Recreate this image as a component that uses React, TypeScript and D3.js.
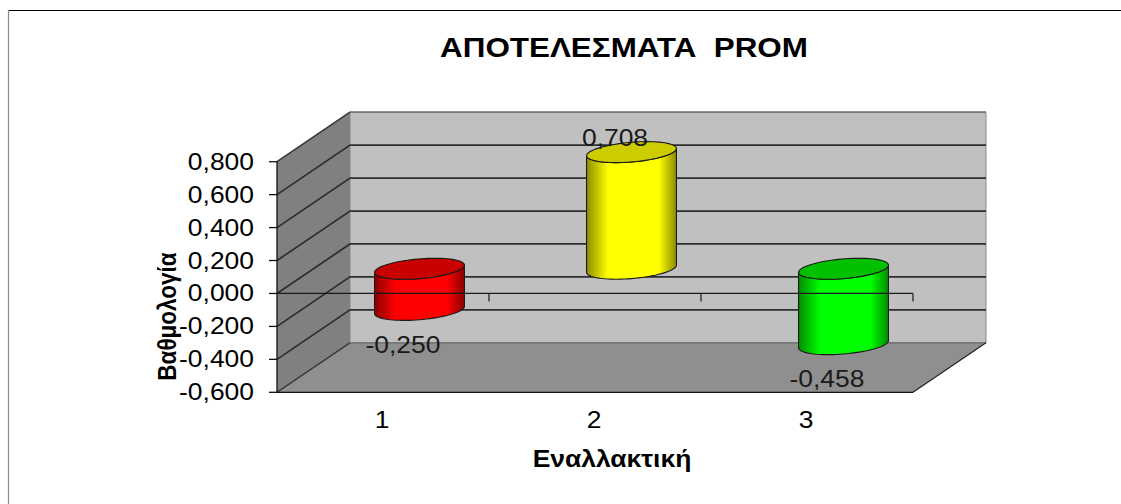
import React from "react";
import * as d3 from "d3";

const categories = ["1", "2", "3"];
const values = [-0.25, 0.708, -0.458];
const valueLabels = ["-0,250", "0,708", "-0,458"];
const barColors = ["#ff0000", "#ffff00", "#00ff00"];
const barShades = ["#8c0000", "#8c8c00", "#008c00"];
const barTops = ["#c80000", "#cccc00", "#00c000"];
const yTicks = [-0.6, -0.4, -0.2, 0, 0.2, 0.4, 0.6, 0.8];
const title = "ΑΠΟΤΕΛΕΣΜΑΤΑ  PROM";
const xTitle = "Εναλλακτική";
const yTitle = "Βαθμολογία";

const WIDTH = 1121;
const HEIGHT = 504;
const FONT = "'Liberation Sans', Arial, sans-serif";
// All lettering is set slightly wide
const TEXT_STRETCH = 1.15;

// Oblique projection: the plot's front plane and the shift to its back plane
const y = d3.scaleLinear().domain([-0.6, 0.8]).range([392.3, 161.7]);
const x = d3.scaleBand().domain(categories).range([277, 913]);
const depthX = 73;
const depthY = -49.5;

// Cylinder base: a circle sheared along the width and depth axes
const radiusWide = 42.2;
const radiusDepthX = 15.5;
const radiusDepthY = 10.5;
const silhouette = Math.atan2(radiusDepthX, radiusWide);

const tickFormat = (v: number) => d3.format(".3f")(v).replace(".", ",").replace("−", "-");

function rimPoint(cx: number, cy: number, t: number): [number, number] {
  return [
    cx + radiusWide * Math.cos(t) + radiusDepthX * Math.sin(t),
    cy - radiusDepthY * Math.sin(t),
  ];
}

const outline = d3.line();

function rimPoints(cx: number, cy: number, from: number, to: number) {
  return d3.range(41).map((i) => rimPoint(cx, cy, from + ((to - from) * i) / 40));
}

function Cylinder({ index }: { index: number }) {
  const cat = categories[index];
  const cx = x(cat)! + x.bandwidth() / 2 + depthX / 2;
  const zeroY = y(0) + depthY / 2;
  const valueY = y(values[index]) + depthY / 2;
  const topY = Math.min(zeroY, valueY);
  const bottomY = Math.max(zeroY, valueY);

  // The front half of each rim runs from the left silhouette to the right one
  const frontTop = rimPoints(cx, topY, Math.PI + silhouette, 2 * Math.PI + silhouette);
  const frontBottom = rimPoints(cx, bottomY, 2 * Math.PI + silhouette, Math.PI + silhouette);
  const cap = rimPoints(cx, topY, 0, 2 * Math.PI);

  return (
    <g stroke="#1a1a1a" strokeWidth={1.1} strokeLinejoin="round">
      <path d={outline([...frontTop, ...frontBottom])! + "Z"} fill={`url(#bar-${index})`} />
      <path d={outline(cap)! + "Z"} fill={barTops[index]} />
    </g>
  );
}

function WideText({
  px,
  py,
  size,
  anchor = "middle",
  bold = false,
  fill = "#000",
  children,
}: {
  px: number;
  py: number;
  size: number;
  anchor?: string;
  bold?: boolean;
  fill?: string;
  children: React.ReactNode;
}) {
  return (
    <text
      transform={`translate(${px},${py}) scale(${TEXT_STRETCH},1)`}
      textAnchor={anchor}
      fontSize={size}
      fontWeight={bold ? "bold" : "normal"}
      fill={fill}
      style={{ whiteSpace: "pre" }}
    >
      {children}
    </text>
  );
}

export default function App() {
  const [x0, x1] = x.range();
  const yBottom = y(-0.6);
  const yTop = y(0.8);
  const backX0 = x0 + depthX;
  const backX1 = x1 + depthX;

  return (
    <svg
      width={WIDTH}
      height={HEIGHT}
      style={{ position: "absolute", left: 0, top: 0, background: "#fff" }}
      fontFamily={FONT}
    >
      <defs>
        {categories.map((_, i) => (
          <linearGradient key={i} id={`bar-${i}`} x1="0" x2="1" y1="0" y2="0">
            <stop offset="0" stopColor={barShades[i]} />
            <stop offset="0.24" stopColor={barColors[i]} />
            <stop offset="0.8" stopColor={barColors[i]} />
            <stop offset="1" stopColor={barShades[i]} />
          </linearGradient>
        ))}
      </defs>

      {/* Outer frame: only the top and left edges are drawn */}
      <line x1={8} x2={WIDTH} y1={10.5} y2={10.5} stroke="#000" strokeWidth={1.2} />
      <line x1={8.5} x2={8.5} y1={10} y2={HEIGHT} stroke="#8a8a8a" strokeWidth={1.2} />

      <WideText px={624} py={57} size={27.3} bold>
        {title}
      </WideText>

      {/* Walls and floor */}
      <polygon
        points={`${backX0},${yTop + depthY} ${backX1},${yTop + depthY} ${backX1},${yBottom + depthY} ${backX0},${yBottom + depthY}`}
        fill="#c0c0c0"
        stroke="#8a8a8a"
        strokeWidth={1}
      />
      <polygon
        points={`${x0},${yTop} ${backX0},${yTop + depthY} ${backX0},${yBottom + depthY} ${x0},${yBottom}`}
        fill="#808080"
      />
      <polygon
        points={`${x0},${yBottom} ${backX0},${yBottom + depthY} ${backX1},${yBottom + depthY} ${x1},${yBottom}`}
        fill="#8f8f8f"
      />

      {/* Gridlines bend from the side wall onto the back wall */}
      {yTicks.map((t) => (
        <polyline
          key={t}
          points={`${x0},${y(t)} ${backX0},${y(t) + depthY} ${backX1},${y(t) + depthY}`}
          fill="none"
          stroke={t === -0.6 || t === 0.8 ? "#777" : "#2e2e2e"}
          strokeWidth={1.7}
        />
      ))}
      <line x1={x0} y1={yBottom} x2={backX0} y2={yBottom + depthY} stroke="#333" strokeWidth={1.2} />
      <line x1={x0} y1={yTop} x2={backX0} y2={yTop + depthY} stroke="#333" strokeWidth={1.2} />
      <line x1={x1} y1={yBottom} x2={backX1} y2={yBottom + depthY} stroke="#222" strokeWidth={1.2} />

      {categories.map((_, i) => (
        <Cylinder key={i} index={i} />
      ))}

      {/* Value axis on the front plane */}
      <line x1={x0} x2={x0} y1={yTop} y2={yBottom} stroke="#111" strokeWidth={1.3} />
      {yTicks.map((t) => (
        <g key={t}>
          <line x1={x0 - 8} x2={x0} y1={y(t)} y2={y(t)} stroke="#111" strokeWidth={1.3} />
          <WideText px={254} py={y(t) + 8} size={23} anchor="end">
            {tickFormat(t)}
          </WideText>
        </g>
      ))}

      {/* Category axis at zero, crossing the bars */}
      <line x1={x0} x2={x1} y1={y(0)} y2={y(0)} stroke="#1a1a1a" strokeWidth={1.3} />
      {categories.map((c) => (
        <line
          key={c}
          x1={x(c)! + x.bandwidth()}
          x2={x(c)! + x.bandwidth()}
          y1={y(0)}
          y2={y(0) + 8}
          stroke="#1a1a1a"
          strokeWidth={1.2}
        />
      ))}
      <line x1={x0} x2={x1} y1={yBottom} y2={yBottom} stroke="#111" strokeWidth={1.3} />

      {categories.map((c) => (
        <WideText key={c} px={x(c)! + x.bandwidth() / 2 - 1} py={427.5} size={23}>
          {c}
        </WideText>
      ))}

      {/* Value labels sit just past each bar's end */}
      {categories.map((c, i) => (
        <WideText
          key={c}
          px={x(c)! + x.bandwidth() / 2 + 20}
          py={y(values[i]) + (values[i] < 0 ? 18 : -30.8)}
          size={23}
          fill="#1a1a1a"
        >
          {valueLabels[i]}
        </WideText>
      ))}

      <WideText px={612} py={466.5} size={23} bold>
        {xTitle}
      </WideText>
      <text
        transform={`translate(176,316.5) scale(${TEXT_STRETCH},1) rotate(-90)`}
        textAnchor="middle"
        fontSize={22.5}
        fontWeight="bold"
        fill="#000"
      >
        {yTitle}
      </text>
    </svg>
  );
}
